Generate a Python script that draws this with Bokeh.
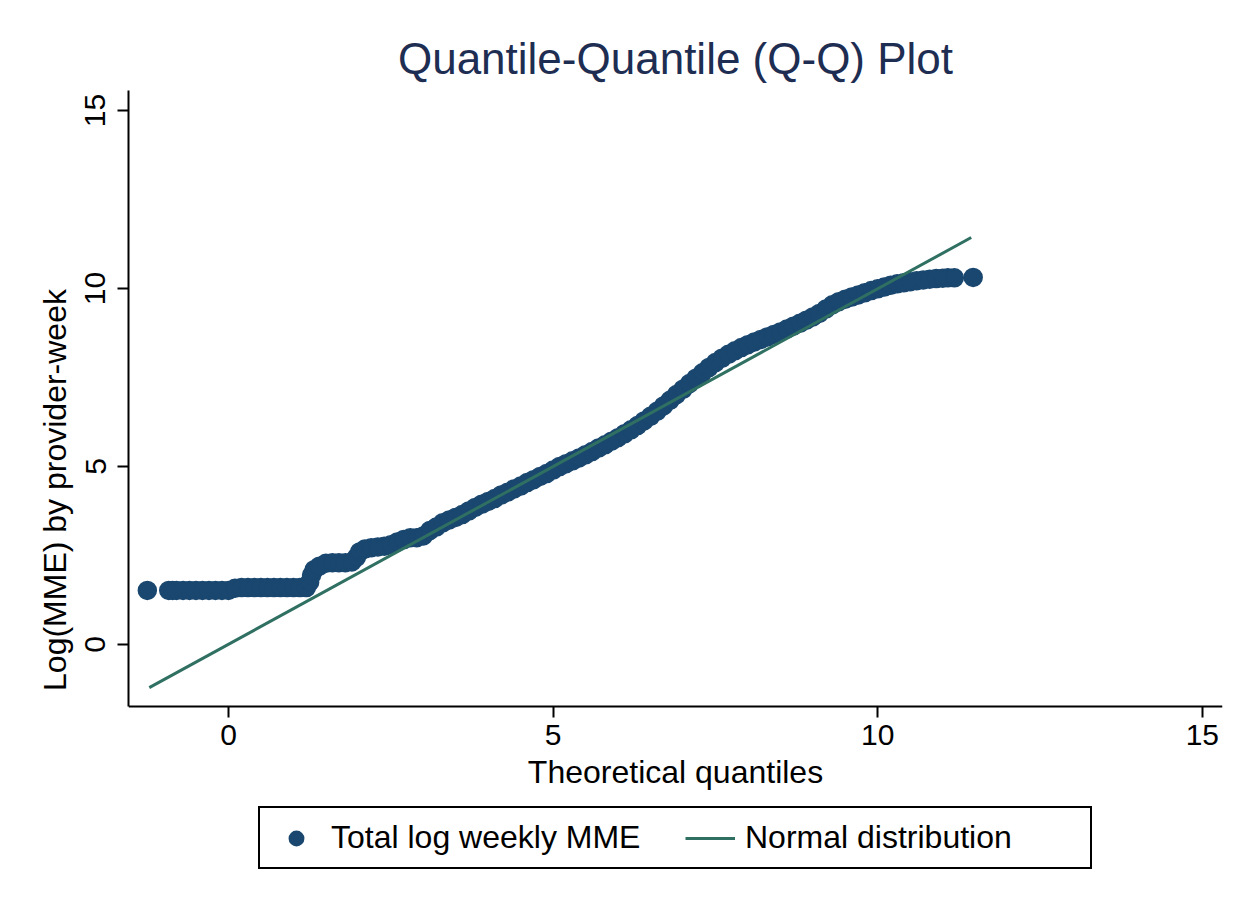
from bokeh.plotting import figure
from bokeh.models import FixedTicker, Legend, LegendItem, Range1d
from bokeh.embed import file_html
from bokeh.resources import INLINE

# ---------------- data ----------------
title_text = "Quantile-Quantile (Q-Q) Plot"
x_label = "Theoretical quantiles"
y_label = "Log(MME) by provider-week"
series_points = "Total log weekly MME"
series_line = "Normal distribution"
x_ticks = [0, 5, 10, 15]
y_ticks = [0, 5, 10, 15]

theoretical_q = [
    -1.25, -0.92, -0.86, -0.8, -0.7, -0.6, -0.5, -0.4, -0.3, -0.2, -0.1, 0.0, 0.1,
    0.2, 0.3, 0.4, 0.5, 0.6, 0.7, 0.8, 0.9, 1.0, 1.1, 1.2,
    1.25, 1.28, 1.32, 1.4, 1.5, 1.6, 1.7, 1.8, 1.9, 1.97, 2.02, 2.1, 2.2, 2.3,
    2.4, 2.5, 2.6, 2.7, 2.8, 2.9, 3.0,
    3.1, 3.2, 3.3, 3.4, 3.5, 3.6, 3.7, 3.8, 3.9, 4.0,
    4.1, 4.2, 4.3, 4.4, 4.5, 4.6, 4.7, 4.8, 4.9, 5.0,
    5.1, 5.2, 5.3, 5.4, 5.5, 5.6, 5.7, 5.8, 5.9, 6.0,
    6.1, 6.2, 6.3, 6.4, 6.5, 6.6, 6.7, 6.8, 6.9, 7.0,
    7.1, 7.2, 7.3, 7.4, 7.5, 7.6, 7.7, 7.8, 7.9, 8.0,
    8.1, 8.2, 8.3, 8.4, 8.5, 8.6, 8.7, 8.8, 8.9, 9.0,
    9.1, 9.2, 9.3, 9.4, 9.5, 9.6, 9.7, 9.8, 9.9, 10.0,
    10.1, 10.2, 10.3, 10.4, 10.5, 10.6, 10.7, 10.8, 10.9, 11.0,
    11.08, 11.18, 11.47,
]
observed_log_mme = [
    1.52, 1.52, 1.52, 1.52, 1.52, 1.52, 1.52, 1.52, 1.52, 1.52, 1.52, 1.52, 1.58,
    1.6, 1.6, 1.6, 1.6, 1.6, 1.6, 1.6, 1.6, 1.6, 1.6, 1.6,
    1.75, 1.95, 2.1, 2.2, 2.28, 2.3, 2.3, 2.3, 2.32, 2.45, 2.6, 2.68, 2.72, 2.74,
    2.76, 2.8, 2.88, 2.95, 3.0, 3.0, 3.05,
    3.2, 3.3, 3.42, 3.5, 3.57, 3.65, 3.75, 3.85, 3.94, 4.02,
    4.1, 4.2, 4.28, 4.37, 4.45, 4.55, 4.63, 4.72, 4.8, 4.9,
    5.0, 5.08, 5.16, 5.24, 5.33, 5.42, 5.52, 5.61, 5.71, 5.81,
    5.92, 6.03, 6.15, 6.28, 6.41, 6.55, 6.7, 6.86, 7.02, 7.17,
    7.33, 7.48, 7.63, 7.78, 7.92, 8.04, 8.15, 8.25, 8.34, 8.42,
    8.5, 8.57, 8.64, 8.71, 8.78, 8.86, 8.94, 9.02, 9.11, 9.2,
    9.3, 9.42, 9.54, 9.63, 9.7, 9.76, 9.82, 9.88, 9.94, 9.99,
    10.04, 10.09, 10.13, 10.16, 10.19, 10.22, 10.24, 10.26, 10.28, 10.29,
    10.3, 10.3, 10.31,
]

normal_x = [-1.22, 11.44]
normal_y = [-1.21, 11.43]

# ---------------- styling ----------------
FONT = "Liberation Sans"
NAVY = "#1a476f"
TEAL = "#2f7062"
TITLE_COLOR = "#1e2d52"

Y_AXIS_BOTTOM = -1.74     # where the x axis sits
Y_TOP = 15.56
Y_FRAME_BOTTOM = -6.88    # extra room under the axis for labels + legend

p = figure(
    width=1245, height=899,
    x_range=Range1d(-1.54, 15.31), y_range=Range1d(Y_FRAME_BOTTOM, Y_TOP),
    output_backend="svg", toolbar_location=None,
    min_border_left=128, min_border_right=23,
    min_border_top=90, min_border_bottom=10,
)
p.background_fill_color = "white"
p.border_fill_color = "white"
p.outline_line_color = None
p.grid.visible = False

p.title.text = title_text
p.title.align = "center"
p.title.text_font = FONT
p.title.text_font_size = "44px"
p.title.text_font_style = "normal"
p.title.text_color = TITLE_COLOR
p.title.standoff = 15

for ax in (p.xaxis[0], p.yaxis[0]):
    ax.axis_line_color = "black"
    ax.axis_line_width = 2
    ax.major_tick_line_color = "black"
    ax.major_tick_line_width = 2
    ax.major_tick_out = 11
    ax.major_tick_in = 0
    ax.minor_tick_line_color = None
    ax.major_label_text_font = FONT
    ax.major_label_text_font_size = "30px"
    ax.major_label_text_color = "black"
    ax.axis_label_text_font = FONT
    ax.axis_label_text_font_size = "32px"
    ax.axis_label_text_font_style = "normal"
    ax.axis_label_text_color = "black"

p.xaxis.ticker = FixedTicker(ticks=x_ticks)
p.yaxis.ticker = FixedTicker(ticks=y_ticks)
p.xaxis.axis_label = x_label
p.yaxis.axis_label = y_label
p.xaxis.fixed_location = Y_AXIS_BOTTOM
p.yaxis.bounds = (Y_AXIS_BOTTOM, Y_TOP)
p.xaxis.major_label_standoff = 8
p.xaxis.axis_label_standoff = 5
p.yaxis.major_label_standoff = 12
p.yaxis.axis_label_standoff = 10
p.yaxis.major_label_orientation = "vertical"

line_r = p.line(normal_x, normal_y, line_color=TEAL, line_width=3)
pts_r = p.scatter(theoretical_q, observed_log_mme, marker="circle", size=18,
                  fill_color=NAVY, line_color=NAVY, line_width=1.5)
p.renderers = [pts_r, line_r]

legend = Legend(
    items=[LegendItem(label=series_points, renderers=[pts_r]),
           LegendItem(label=series_line, renderers=[line_r])],
    orientation="horizontal", location=(130, 20),
    label_text_font=FONT, label_text_font_size="32px", label_text_color="black",
    glyph_width=50, glyph_height=36, label_standoff=10, label_width=334,
    spacing=20, padding=11, margin=0,
    border_line_color="black", border_line_width=2, border_line_alpha=1.0,
    background_fill_color="white", background_fill_alpha=1.0,
)
p.add_layout(legend, "center")

open("out.html", "w").write(file_html(p, INLINE))
